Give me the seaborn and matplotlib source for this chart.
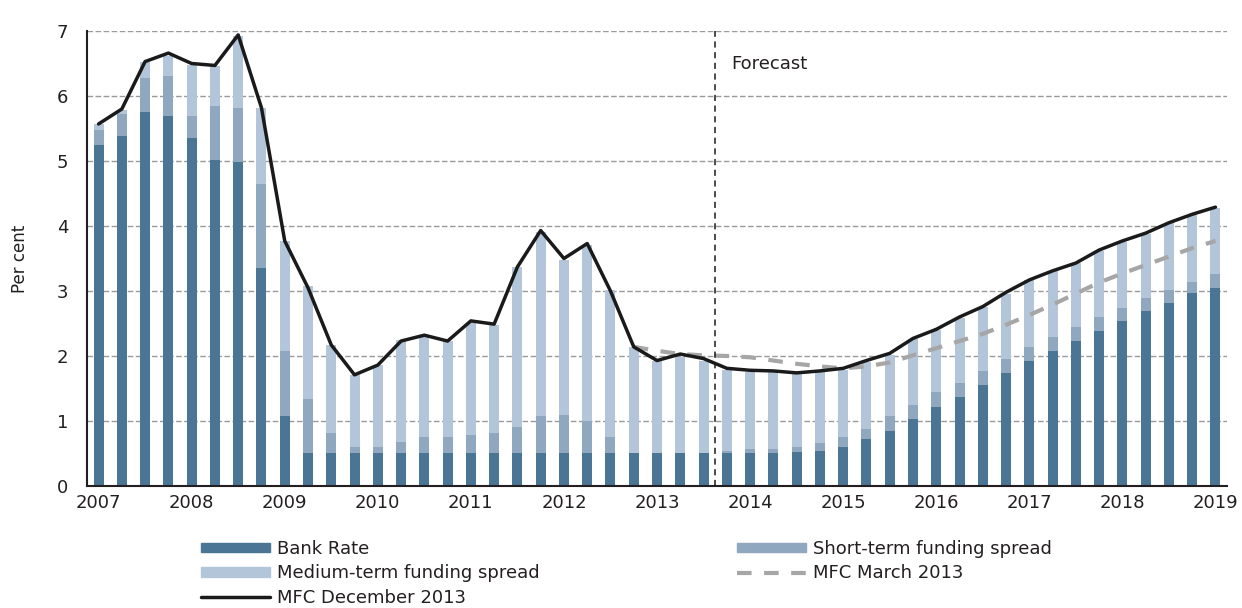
import numpy as np
import pandas as pd
import matplotlib
matplotlib.use('Agg')
import matplotlib.pyplot as plt
import seaborn as sns
from matplotlib.patches import Patch
from matplotlib.lines import Line2D

sns.set_style("white")
plt.rcParams['font.family'] = ['DejaVu Sans']

# quarterly, 2007Q1 - 2019Q1
quarters = [f"{y}Q{q}" for y in range(2007, 2020) for q in range(1, 5)][:49]
year_labels = [str(y) for y in range(2007, 2020)]

bank_rate = [5.24, 5.39, 5.75, 5.70, 5.36, 5.02, 4.98, 3.36, 1.07, 0.50,
             0.50, 0.50, 0.50, 0.50, 0.50, 0.50, 0.50, 0.50, 0.50, 0.50,
             0.50, 0.50, 0.50, 0.50, 0.50, 0.50, 0.50, 0.51, 0.51, 0.51,
             0.52, 0.54, 0.60, 0.72, 0.85, 1.03, 1.22, 1.37, 1.55, 1.74,
             1.92, 2.08, 2.23, 2.38, 2.54, 2.69, 2.82, 2.97, 3.05]
short_spread = [0.24, 0.34, 0.53, 0.61, 0.33, 0.83, 0.84, 1.29, 1.01, 0.84,
                0.32, 0.10, 0.10, 0.17, 0.26, 0.26, 0.28, 0.32, 0.41, 0.57,
                0.59, 0.50, 0.26, 0.00, 0.00, 0.00, 0.00, 0.03, 0.06, 0.06,
                0.08, 0.12, 0.16, 0.16, 0.22, 0.22, 0.22, 0.22, 0.22, 0.21,
                0.22, 0.21, 0.22, 0.22, 0.20, 0.20, 0.20, 0.17, 0.21]
medium_spread = [0.09, 0.05, 0.25, 0.31, 0.79, 0.61, 1.11, 1.17, 1.69, 1.73,
                 1.35, 1.11, 1.26, 1.57, 1.54, 1.47, 1.72, 1.66, 2.46, 2.84,
                 2.39, 2.71, 2.26, 1.64, 1.43, 1.49, 1.43, 1.24, 1.19, 1.18,
                 1.12, 1.10, 1.02, 1.03, 0.95, 1.01, 0.96, 0.99, 0.99, 1.01,
                 1.03, 1.01, 0.98, 1.02, 1.02, 0.99, 1.02, 1.03, 1.02]
mfc_dec_2013 = [5.57, 5.80, 6.53, 6.66, 6.50, 6.47, 6.94, 5.82, 3.77, 3.05,
                2.17, 1.71, 1.86, 2.23, 2.32, 2.23, 2.54, 2.49, 3.37, 3.93,
                3.50, 3.73, 3.00, 2.14, 1.93, 2.03, 1.96, 1.81, 1.78, 1.77,
                1.74, 1.77, 1.81, 1.93, 2.04, 2.27, 2.41, 2.60, 2.76, 2.98,
                3.17, 3.31, 3.43, 3.63, 3.77, 3.89, 4.05, 4.18, 4.29]
# MFC March 2013 starts at 2012Q4
mfc_mar_2013 = [2.14, 2.08, 2.03, 2.01, 2.00, 1.98, 1.93, 1.88, 1.84, 1.81,
                1.84, 1.90, 2.01, 2.12, 2.23, 2.34, 2.48, 2.63, 2.79, 2.96,
                3.13, 3.27, 3.40, 3.53, 3.66, 3.77]

c_bank = '#4a7594'
c_short = '#8fa8bf'
c_medium = '#b3c5d8'
c_text = '#231f20'

df = pd.DataFrame({'q': np.arange(len(quarters)),
                   'bank': bank_rate, 'short': short_spread, 'medium': medium_spread,
                   'mfc_dec': mfc_dec_2013})
df['top_short'] = df['bank'] + df['short']
df['top_total'] = df['top_short'] + df['medium']
mar = pd.DataFrame({'q': np.arange(len(quarters) - len(mfc_mar_2013), len(quarters)),
                    'mfc_mar': mfc_mar_2013})

fig, ax = plt.subplots(figsize=(12.42, 6.08), dpi=100)
fig.subplots_adjust(left=0.070, right=0.988, top=0.949, bottom=0.2007)

ax.set_axisbelow(True)
ax.yaxis.grid(True, color='#9a9a9a', linestyle=(0, (4, 1.8)), linewidth=1.0)

w = 0.43
for col, colr in [('top_total', c_medium), ('top_short', c_short), ('bank', c_bank)]:
    sns.barplot(data=df, x='q', y=col, native_scale=True, width=w, color=colr,
                saturation=1, linewidth=0, edgecolor='none', ax=ax, zorder=2)

sns.lineplot(data=mar, x='q', y='mfc_mar', color='#a6a6a6', linewidth=3,
             linestyle=(0, (3.5, 3)), ax=ax, zorder=3)
sns.lineplot(data=df, x='q', y='mfc_dec', color='#1a1a1a', linewidth=2.5, ax=ax, zorder=4)

# forecast marker between 2013Q3 and 2013Q4
fc = quarters.index('2013Q4') - 0.5
ax.axvline(fc, color='#1a1a1a', linestyle=(0, (4, 3)), linewidth=1.1, zorder=5)
ax.text(fc + 0.7, 6.5, 'Forecast', fontsize=13, ha='left', va='center', color=c_text)

ax.set_xlim(-0.5, len(quarters) - 0.5)
ax.set_ylim(0, 7)
ax.set_yticks(range(0, 8))
ax.set_xticks([4 * i for i in range(len(year_labels))])
ax.set_xticklabels(year_labels)
ax.set_xticks(np.arange(-0.5, len(quarters), 1), minor=True)
ax.tick_params(axis='x', which='major', length=0, labelsize=13, pad=6, colors=c_text)
ax.tick_params(axis='x', which='minor', direction='out', length=4.5, width=1.2, color=c_text)
ax.tick_params(axis='y', direction='inout', length=7, width=1, labelsize=13, color=c_text,
               labelcolor=c_text, pad=10)
ax.set_xlabel('')
ax.set_ylabel('Per cent', fontsize=12, color=c_text, labelpad=20)
sns.despine(ax=ax)
for s in ['left', 'bottom']:
    ax.spines[s].set_color(c_text)
    ax.spines[s].set_linewidth(1.5)

handles = [Patch(color=c_bank), Patch(color=c_medium),
           Line2D([], [], color='#1a1a1a', lw=2.5),
           Patch(color=c_short),
           Line2D([], [], color='#a6a6a6', lw=3, linestyle=(0, (3.5, 3)))]
labels = ['Bank Rate', 'Medium-term funding spread', 'MFC December 2013',
          'Short-term funding spread', 'MFC March 2013']
fig.legend(handles, labels, loc='upper left', bbox_to_anchor=(0.162, 0.112), ncol=2,
           frameon=False, fontsize=13, handlelength=3.8, handleheight=0.45,
           handletextpad=0.4, labelspacing=0.35, columnspacing=10.95, borderpad=0,
           borderaxespad=0, labelcolor=c_text)

plt.savefig('out.png', dpi=100)
